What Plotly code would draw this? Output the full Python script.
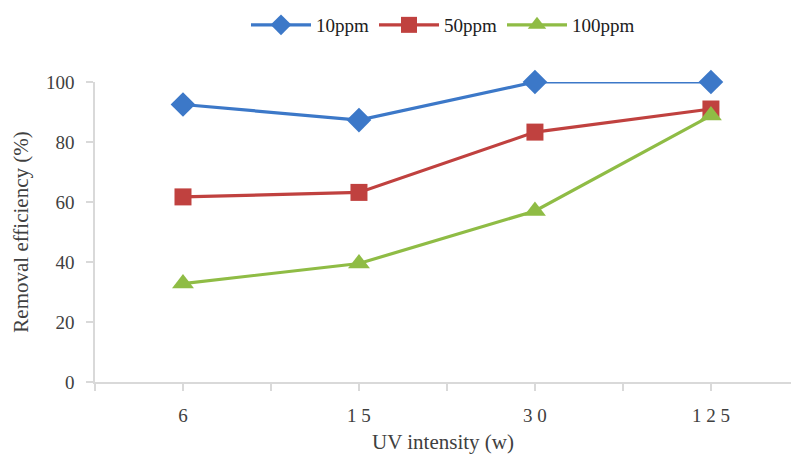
import plotly.graph_objects as go

categories = ["6", "15", "30", "125"]
tick_labels = ["6", "1 5", "3 0", "1 2 5"]
s10 = [92.5, 87.3, 100.0, 100.0]
s50 = [61.7, 63.2, 83.3, 91.0]
s100 = [32.8, 39.5, 57.0, 88.8]

xpos = list(range(len(categories)))
font_family = "Liberation Serif, Times New Roman, serif"

fig = go.Figure()
series = [
    ("10ppm", s10, "#3C78C8", "diamond", 19),
    ("50ppm", s50, "#C0413F", "square", 17),
    ("100ppm", s100, "#8FBC45", "triangle-up", 19),
]
for name, vals, col, sym, sz in series:
    fig.add_trace(go.Scatter(
        x=xpos, y=vals, name=name, mode="lines+markers",
        line=dict(color=col, width=3.2),
        marker=dict(symbol=sym, size=sz, color=col, line=dict(width=0)),
        cliponaxis=False,
    ))

half_ticks = [i * 0.5 - 0.5 for i in range(9)]
half_labels = []
for t in half_ticks:
    if abs(t - round(t)) < 1e-9 and 0 <= round(t) < len(tick_labels):
        half_labels.append(tick_labels[int(round(t))])
    else:
        half_labels.append("")

fig.update_layout(
    width=791, height=456,
    margin=dict(l=95, r=0, t=82, b=74, autoexpand=False),
    plot_bgcolor="white", paper_bgcolor="white",
    font=dict(family=font_family, color="#404040"),
    showlegend=True,
    legend=dict(orientation="h", x=0.5, xanchor="center", y=1.19, yanchor="middle",
                font=dict(size=19, color="#202020"), itemwidth=60, tracegroupgap=0),
    xaxis=dict(
        range=[-0.5, 3.455], tickmode="array", tickvals=half_ticks, ticktext=half_labels,
        showgrid=False, zeroline=False, showline=True, linecolor="#D9D9D9", linewidth=1.5,
        ticks="outside", ticklen=7, tickcolor="#D9D9D9", tickwidth=1.5,
        tickfont=dict(size=19, color="#404040"), ticklabelstandoff=8,
        title=dict(text="UV intensity (w)", font=dict(size=21, color="#404040"), standoff=10),
    ),
    yaxis=dict(
        range=[0, 100], tickvals=[0, 20, 40, 60, 80, 100],
        showgrid=False, zeroline=False, showline=True, linecolor="#D9D9D9", linewidth=1.5,
        ticks="outside", ticklen=7, tickcolor="#D9D9D9", tickwidth=1.5,
        tickfont=dict(size=19, color="#404040"), ticklabelstandoff=8,
        title=dict(text="Removal efficiency (%)", font=dict(size=21, color="#404040"), standoff=12),
    ),
)

fig.write_html("out.html")
